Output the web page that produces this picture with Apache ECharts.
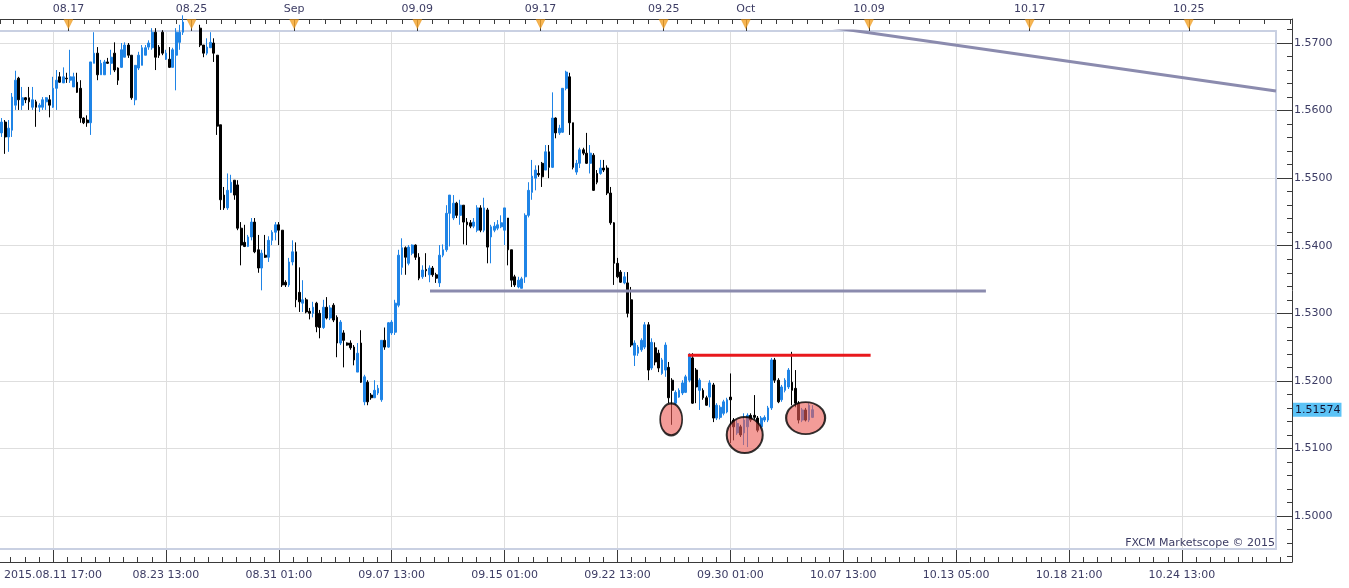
<!DOCTYPE html>
<html>
<head>
<meta charset="utf-8">
<script src="https://cdn.jsdelivr.net/npm/echarts/dist/echarts.min.js"></script>
<style>
html,body{margin:0;padding:0;background:#ffffff;}
#chart{width:1349px;height:588px;}
</style>
</head>
<body>
<div id="chart"></div>
<script>
// ================= DATA =================
// number of 4-hour slots across the plot (history + projected future)
const slotCount = 373;

// GBP/USD H4 candles: [open, close, low, high]
const ohlc = [
[1.5567,1.5583,1.5561,1.5589],[1.5583,1.5561,1.5536,1.5586],[1.5561,1.5574,1.5539,1.5586],[1.5571,1.5620,1.5561,1.5626],
[1.5608,1.5645,1.5601,1.5659],[1.5648,1.5616,1.5601,1.5650],[1.5608,1.5619,1.5601,1.5635],[1.5619,1.5616,1.5611,1.5620],
[1.5619,1.5613,1.5601,1.5635],[1.5605,1.5616,1.5601,1.5635],[1.5613,1.5605,1.5576,1.5616],[1.5605,1.5608,1.5598,1.5611],
[1.5605,1.5616,1.5601,1.5620],[1.5613,1.5619,1.5601,1.5620],[1.5616,1.5608,1.5590,1.5623],[1.5605,1.5633,1.5604,1.5650],
[1.5633,1.5645,1.5601,1.5660],[1.5650,1.5642,1.5641,1.5657],[1.5641,1.5650,1.5641,1.5664],[1.5648,1.5647,1.5641,1.5656],
[1.5645,1.5650,1.5641,1.5690],[1.5635,1.5650,1.5635,1.5656],[1.5642,1.5627,1.5626,1.5656],[1.5633,1.5589,1.5582,1.5645],
[1.5589,1.5582,1.5580,1.5590],[1.5586,1.5582,1.5576,1.5593],[1.5582,1.5672,1.5564,1.5672],[1.5670,1.5685,1.5670,1.5716],
[1.5685,1.5653,1.5645,1.5694],[1.5653,1.5670,1.5653,1.5675],[1.5653,1.5672,1.5653,1.5675],[1.5672,1.5670,1.5669,1.5678],
[1.5670,1.5679,1.5653,1.5690],[1.5685,1.5660,1.5657,1.5701],[1.5663,1.5645,1.5638,1.5664],[1.5664,1.5690,1.5663,1.5700],
[1.5679,1.5697,1.5679,1.5701],[1.5697,1.5682,1.5678,1.5700],[1.5682,1.5619,1.5616,1.5682],[1.5616,1.5667,1.5608,1.5667],
[1.5663,1.5682,1.5660,1.5687],[1.5667,1.5693,1.5667,1.5697],[1.5682,1.5693,1.5682,1.5697],[1.5694,1.5700,1.5690,1.5704],
[1.5693,1.5716,1.5690,1.5722],[1.5716,1.5679,1.5660,1.5722],[1.5694,1.5682,1.5678,1.5697],[1.5716,1.5685,1.5682,1.5719],
[1.5676,1.5685,1.5675,1.5690],[1.5676,1.5664,1.5663,1.5694],[1.5664,1.5690,1.5664,1.5693],[1.5682,1.5716,1.5630,1.5722],
[1.5701,1.5716,1.5690,1.5727],[1.5716,1.5731,1.5712,1.5741],[1.5731,1.5737,1.5722,1.5749],[1.5737,1.5727,1.5722,1.5746],
[1.5727,1.5734,1.5721,1.5743],[1.5734,1.5722,1.5719,1.5740],[1.5722,1.5697,1.5694,1.5727],[1.5697,1.5685,1.5679,1.5697],
[1.5685,1.5694,1.5682,1.5707],[1.5693,1.5701,1.5693,1.5716],[1.5700,1.5685,1.5672,1.5707],[1.5682,1.5577,1.5564,1.5682],
[1.5579,1.5468,1.5453,1.5579],[1.5475,1.5456,1.5453,1.5487],[1.5456,1.5482,1.5453,1.5507],[1.5479,1.5494,1.5478,1.5505],
[1.5497,1.5475,1.5468,1.5497],[1.5490,1.5426,1.5423,1.5497],[1.5426,1.5401,1.5371,1.5435],[1.5405,1.5399,1.5398,1.5431],
[1.5399,1.5413,1.5398,1.5416],[1.5413,1.5435,1.5408,1.5441],[1.5435,1.5391,1.5389,1.5441],[1.5394,1.5367,1.5360,1.5416],
[1.5367,1.5389,1.5334,1.5394],[1.5386,1.5383,1.5382,1.5416],[1.5383,1.5408,1.5376,1.5414],[1.5408,1.5420,1.5401,1.5423],
[1.5420,1.5431,1.5408,1.5435],[1.5431,1.5423,1.5401,1.5435],[1.5423,1.5342,1.5339,1.5423],[1.5346,1.5342,1.5339,1.5349],
[1.5342,1.5376,1.5339,1.5382],[1.5376,1.5391,1.5371,1.5408],[1.5391,1.5320,1.5309,1.5405],[1.5331,1.5317,1.5302,1.5368],
[1.5315,1.5320,1.5302,1.5349],[1.5320,1.5302,1.5300,1.5323],[1.5303,1.5300,1.5291,1.5308],[1.5300,1.5309,1.5294,1.5317],
[1.5315,1.5280,1.5272,1.5317],[1.5300,1.5279,1.5263,1.5305],[1.5279,1.5309,1.5277,1.5320],[1.5309,1.5293,1.5291,1.5324],
[1.5293,1.5308,1.5290,1.5312],[1.5312,1.5290,1.5287,1.5315],[1.5294,1.5256,1.5235,1.5297],[1.5256,1.5287,1.5253,1.5290],
[1.5271,1.5260,1.5220,1.5275],[1.5256,1.5253,1.5252,1.5257],[1.5256,1.5249,1.5246,1.5260],[1.5250,1.5231,1.5223,1.5253],
[1.5213,1.5241,1.5213,1.5256],[1.5256,1.5198,1.5197,1.5275],[1.5169,1.5206,1.5164,1.5209],[1.5198,1.5169,1.5164,1.5201],
[1.5179,1.5175,1.5172,1.5182],[1.5175,1.5186,1.5175,1.5201],[1.5182,1.5189,1.5179,1.5194],[1.5172,1.5260,1.5169,1.5260],
[1.5260,1.5250,1.5246,1.5279],[1.5250,1.5286,1.5249,1.5287],[1.5271,1.5287,1.5268,1.5290],[1.5272,1.5315,1.5268,1.5320],
[1.5312,1.5386,1.5309,1.5394],[1.5368,1.5397,1.5357,1.5411],[1.5397,1.5383,1.5357,1.5399],[1.5374,1.5398,1.5371,1.5401],
[1.5389,1.5401,1.5386,1.5402],[1.5401,1.5383,1.5379,1.5402],[1.5383,1.5352,1.5349,1.5389],[1.5354,1.5364,1.5351,1.5371],
[1.5365,1.5363,1.5354,1.5389],[1.5357,1.5367,1.5346,1.5371],[1.5367,1.5357,1.5354,1.5370],[1.5357,1.5352,1.5345,1.5360],
[1.5345,1.5386,1.5339,1.5401],[1.5386,1.5394,1.5383,1.5402],[1.5394,1.5448,1.5391,1.5460],[1.5448,1.5475,1.5399,1.5475],
[1.5441,1.5463,1.5438,1.5475],[1.5463,1.5445,1.5441,1.5465],[1.5445,1.5460,1.5431,1.5468],[1.5460,1.5435,1.5402,1.5460],
[1.5435,1.5431,1.5401,1.5441],[1.5434,1.5429,1.5426,1.5438],[1.5429,1.5435,1.5426,1.5441],[1.5423,1.5456,1.5420,1.5460],
[1.5456,1.5423,1.5420,1.5460],[1.5423,1.5456,1.5420,1.5471],[1.5453,1.5398,1.5374,1.5456],[1.5413,1.5428,1.5374,1.5431],
[1.5423,1.5429,1.5420,1.5435],[1.5426,1.5431,1.5423,1.5438],[1.5428,1.5434,1.5426,1.5445],[1.5423,1.5456,1.5401,1.5456],
[1.5441,1.5394,1.5371,1.5441],[1.5394,1.5349,1.5339,1.5394],[1.5354,1.5342,1.5339,1.5357],[1.5339,1.5349,1.5337,1.5354],
[1.5337,1.5351,1.5337,1.5354],[1.5354,1.5445,1.5345,1.5448],[1.5445,1.5482,1.5442,1.5494],[1.5479,1.5503,1.5468,1.5527],
[1.5500,1.5512,1.5482,1.5519],[1.5507,1.5505,1.5502,1.5519],[1.5522,1.5502,1.5487,1.5524],[1.5512,1.5539,1.5512,1.5549],
[1.5539,1.5516,1.5500,1.5549],[1.5516,1.5589,1.5515,1.5627],[1.5589,1.5567,1.5559,1.5590],[1.5567,1.5574,1.5564,1.5579],
[1.5568,1.5633,1.5567,1.5633],[1.5633,1.5657,1.5630,1.5659],[1.5650,1.5582,1.5564,1.5656],[1.5582,1.5516,1.5513,1.5582],
[1.5509,1.5522,1.5505,1.5527],[1.5522,1.5542,1.5515,1.5545],[1.5542,1.5537,1.5534,1.5545],[1.5537,1.5522,1.5521,1.5567],
[1.5522,1.5537,1.5507,1.5549],[1.5534,1.5482,1.5481,1.5537],[1.5507,1.5494,1.5491,1.5512],[1.5507,1.5515,1.5505,1.5527],
[1.5515,1.5512,1.5509,1.5527],[1.5515,1.5478,1.5475,1.5519],[1.5478,1.5434,1.5431,1.5487],[1.5434,1.5374,1.5342,1.5435],
[1.5374,1.5354,1.5352,1.5382],[1.5361,1.5346,1.5345,1.5364],[1.5345,1.5354,1.5343,1.5361],[1.5345,1.5300,1.5294,1.5361],
[1.5320,1.5253,1.5250,1.5339],[1.5238,1.5256,1.5222,1.5260],[1.5241,1.5250,1.5237,1.5253],[1.5246,1.5260,1.5243,1.5263],
[1.5250,1.5283,1.5247,1.5287],[1.5283,1.5216,1.5201,1.5287],[1.5219,1.5257,1.5216,1.5263],[1.5249,1.5228,1.5223,1.5257],
[1.5241,1.5219,1.5213,1.5246],[1.5211,1.5231,1.5209,1.5234],[1.5216,1.5253,1.5206,1.5257],[1.5220,1.5175,1.5167,1.5228],
[1.5201,1.5186,1.5135,1.5204],[1.5167,1.5183,1.5164,1.5186],[1.5176,1.5186,1.5175,1.5189],[1.5182,1.5197,1.5179,1.5201],
[1.5183,1.5206,1.5182,1.5209],[1.5201,1.5238,1.5198,1.5241],[1.5234,1.5167,1.5166,1.5241],[1.5216,1.5191,1.5167,1.5219],
[1.5186,1.5201,1.5157,1.5204],[1.5186,1.5175,1.5172,1.5189],[1.5175,1.5164,1.5163,1.5178],[1.5176,1.5197,1.5161,1.5201],
[1.5194,1.5145,1.5139,1.5197],[1.5145,1.5164,1.5142,1.5167],[1.5146,1.5161,1.5143,1.5164],[1.5152,1.5169,1.5149,1.5172],
[1.5154,1.5172,1.5152,1.5175],[1.5176,1.5172,1.5108,1.5211],[1.5142,1.5132,1.5112,1.5145],[1.5123,1.5137,1.5120,1.5142],
[1.5132,1.5120,1.5117,1.5135],[1.5123,1.5142,1.5105,1.5152],[1.5132,1.5149,1.5102,1.5152],[1.5149,1.5142,1.5139,1.5152],
[1.5149,1.5146,1.5143,1.5179],[1.5145,1.5127,1.5124,1.5148],[1.5132,1.5145,1.5129,1.5148],[1.5142,1.5146,1.5139,1.5149],
[1.5142,1.5160,1.5139,1.5163],[1.5160,1.5231,1.5157,1.5234],[1.5231,1.5201,1.5197,1.5234],[1.5201,1.5169,1.5167,1.5204],
[1.5172,1.5191,1.5169,1.5194],[1.5186,1.5201,1.5183,1.5204],[1.5191,1.5216,1.5188,1.5219],[1.5198,1.5186,1.5164,1.5243],
[1.5189,1.5167,1.5161,1.5216],[1.5167,1.5142,1.5137,1.5170],[1.5142,1.5157,1.5139,1.5160],[1.5157,1.5142,1.5140,1.5160],
[1.5142,1.5164,1.5139,1.5167],[1.5146,1.51574,1.5145,1.5164]
];

// bottom time axis (slot index of each labelled tick)
const bottomTickSlots  = [15, 48, 81, 114, 147, 180, 213, 246, 279, 312, 345];
const bottomTickLabels = ['2015.08.11 17:00','08.23 13:00','08.31 01:00','09.07 13:00','09.15 01:00',
                          '09.22 13:00','09.30 01:00','10.07 13:00','10.13 05:00','10.18 21:00','10.24 13:00'];

// top date axis (slot boundary where each day starts)
const topMarkerSlots  = [20, 56, 86, 122, 158, 194, 218, 254, 301, 347.5];
const topMarkerLabels = ['08.17','08.25','Sep','09.09','09.17','09.25','Oct','10.09','10.17','10.25'];
const topDaysPerSegment = [8, 7, 8, 8, 8, 6, 8, 8, 8];

// price axis
const priceTicks = [1.50, 1.51, 1.52, 1.53, 1.54, 1.55, 1.56, 1.57];

// drawn studies: [slot, price]
const trendLine      = [[240, 1.5725], [372.5, 1.5629]];
const supportLine    = [[125.2, 1.5333], [287.7, 1.5333]];
const resistanceLine = [[200.6, 1.5238], [254.0, 1.5238]];
const ellipseCenters = [[195.7, 1.5143], [217.2, 1.5120], [235.0, 1.5145]];

const watermark = 'FXCM Marketscope \u00A9 2015';

// ================= LAYOUT / STYLE =================
const PLOT  = {left: 0, top: 31, width: 1276, height: 518};
const FRAME = {left: 0, top: 19, width: 1292, height: 543};
const Y_MIN = 1.49512, Y_MAX = 1.57178;
const slotW = PLOT.width / slotCount;
const pxPerPrice = PLOT.height / (Y_MAX - Y_MIN);
const frameXMax = -0.5 + FRAME.width / slotW;
const frameYMax = Y_MAX + (PLOT.top - FRAME.top) / pxPerPrice;
const frameYMin = Y_MIN - ((FRAME.top + FRAME.height) - (PLOT.top + PLOT.height)) / pxPerPrice;
const ellipseSizes = [[22, 32], [36, 36], [39, 32]];

const FONT = "'DejaVu Sans', Verdana, sans-serif";
const TXT = '#3c3c64';
const AXIS = '#3a3a3a';
const GRIDC = '#dedede';
const BORDER = '#c9d0e2';
const UP = '#1f84e6', DOWN = '#000000';

const lastClose = ohlc[ohlc.length - 1][1];
const slotNames = Array.from({length: slotCount}, (_, i) => String(i));

function nearestIdx(arr, v) {
  let b = -1, d = 1e9;
  arr.forEach((a, i) => { const e = Math.abs(a - v); if (e < d) { d = e; b = i; } });
  return d < 1e-6 ? b : -1;
}

// minor ticks (decoration only)
const bottomStep = bottomTickSlots[1] - bottomTickSlots[0];
const bottomMinor = [];
for (let k = -8; ; k++) {
  const v = bottomTickSlots[0] + k * bottomStep / 8;
  if (v > frameXMax) break;
  if (v >= -0.5 && k % 8 !== 0) bottomMinor.push(+v.toFixed(4));
}
const priceMinor = [];
for (let k = 0; 1.494 + k * 0.002 <= frameYMax; k++) priceMinor.push(+(1.494 + k * 0.002).toFixed(3));

const topMarkerValues = topMarkerSlots.map(s => s - 0.5);
const topDayBounds = [];
for (let v = topMarkerSlots[0] - 4; v >= 0; v -= 4) topDayBounds.push(v);
for (let s = 0; s < topMarkerSlots.length - 1; s++) {
  const a = topMarkerSlots[s], b = topMarkerSlots[s + 1], n = topDaysPerSegment[s];
  for (let k = 1; k < n; k++) topDayBounds.push(a + (b - a) * k / n);
}
for (let v = topMarkerSlots[topMarkerSlots.length - 1] + 7.4; v - 0.5 <= frameXMax; v += 7.4) topDayBounds.push(v);
const topDayValues = topDayBounds.map(v => +(v - 0.5).toFixed(4));
const markerY = frameYMax - 5 / pxPerPrice;

const chart = echarts.init(document.getElementById('chart'));

const hiddenValueX = (grid, extra) => Object.assign({
  type: 'value', gridIndex: grid, min: -0.5, max: grid === 0 ? slotCount - 0.5 : frameXMax,
  axisLine: {show: false, onZero: false}, axisTick: {show: false}, axisLabel: {show: false}, splitLine: {show: false}
}, extra);

const borderLine = {show: true, onZero: false, lineStyle: {color: BORDER, width: 2}};

const option = {
  animation: false,
  backgroundColor: '#ffffff',
  textStyle: {fontFamily: FONT},
  title: {
    text: watermark, right: 1349 - 1275, bottom: 39, padding: 0,
    textStyle: {fontSize: 11, fontWeight: 'normal', color: TXT, fontFamily: FONT}
  },
  grid: [
    {left: PLOT.left, top: PLOT.top, width: PLOT.width, height: PLOT.height, show: false},
    {left: FRAME.left, top: FRAME.top, width: FRAME.width, height: FRAME.height, show: false}
  ],
  xAxis: [
    {type: 'category', gridIndex: 0, data: slotNames, show: false},
    hiddenValueX(0, {
      position: 'bottom', axisLine: borderLine,
      axisTick: {show: false, customValues: bottomTickSlots},
      splitLine: {show: true, lineStyle: {color: GRIDC, width: 1}}
    }),
    hiddenValueX(1, {
      position: 'bottom',
      axisLine: {show: true, onZero: false, lineStyle: {color: AXIS, width: 1}},
      axisTick: {show: true, inside: true, length: 12, customValues: bottomTickSlots, lineStyle: {color: AXIS}},
      axisLabel: {show: true, customValues: bottomTickSlots, margin: 8, color: TXT, fontSize: 11, fontFamily: FONT,
                  formatter: v => bottomTickLabels[nearestIdx(bottomTickSlots, v)] || ''}
    }),
    hiddenValueX(1, {
      position: 'bottom',
      axisTick: {show: true, inside: true, length: 5, customValues: bottomMinor, lineStyle: {color: AXIS}}
    }),
    hiddenValueX(1, {
      position: 'top',
      axisLine: {show: true, onZero: false, lineStyle: {color: AXIS, width: 1}},
      axisTick: {show: true, inside: true, length: 5, customValues: topDayValues, lineStyle: {color: AXIS}}
    }),
    hiddenValueX(1, {
      position: 'top',
      axisTick: {show: true, inside: true, length: 12, customValues: topMarkerValues, lineStyle: {color: AXIS}},
      axisLabel: {show: true, customValues: topMarkerValues, margin: 4, color: TXT, fontSize: 11, fontFamily: FONT,
                  formatter: v => topMarkerLabels[nearestIdx(topMarkerValues, v)] || ''}
    }),
    hiddenValueX(0, {position: 'top', axisLine: borderLine})
  ],
  yAxis: [
    {type: 'value', gridIndex: 0, min: Y_MIN, max: Y_MAX, position: 'right',
     axisLine: borderLine, axisTick: {show: false, customValues: priceTicks},
     axisLabel: {show: false}, splitLine: {show: true, lineStyle: {color: GRIDC, width: 1}}},
    {type: 'value', gridIndex: 1, position: 'right', min: frameYMin, max: frameYMax,
     axisLine: {show: true, onZero: false, lineStyle: {color: AXIS, width: 1}},
     axisTick: {show: true, inside: true, length: 15, customValues: priceTicks, lineStyle: {color: AXIS}},
     axisLabel: {show: true, customValues: priceTicks, margin: 2, color: TXT, fontSize: 11, fontFamily: FONT,
                 formatter: v => v.toFixed(4)},
     splitLine: {show: false}},
    {type: 'value', gridIndex: 1, position: 'right', min: frameYMin, max: frameYMax,
     axisLine: {show: false, onZero: false},
     axisTick: {show: true, inside: true, length: 5, customValues: priceMinor, lineStyle: {color: AXIS}},
     axisLabel: {show: false}, splitLine: {show: false}},
    {type: 'value', gridIndex: 1, position: 'right', min: frameYMin, max: frameYMax,
     axisLine: {show: false, onZero: false}, axisTick: {show: false},
     axisLabel: {show: true, customValues: [lastClose], margin: 1, color: '#141432', fontSize: 11, fontFamily: FONT,
                 backgroundColor: '#5cc3f6', padding: [2, 1, 1, 2], formatter: v => v.toFixed(5)},
     splitLine: {show: false}}
  ],
  series: [
    {type: 'candlestick', xAxisIndex: 0, yAxisIndex: 0, data: ohlc, barWidth: 2.3, clip: true, z: 2,
     itemStyle: {color: UP, color0: DOWN, borderColor: UP, borderColor0: DOWN, borderWidth: 1}},
    {type: 'line', xAxisIndex: 1, yAxisIndex: 0, data: trendLine, symbol: 'none', clip: true, z: 3, silent: true,
     lineStyle: {color: '#8b8bae', width: 3}},
    {type: 'line', xAxisIndex: 1, yAxisIndex: 0, data: supportLine, symbol: 'none', clip: true, z: 3, silent: true,
     lineStyle: {color: '#8b8bae', width: 3}},
    {type: 'line', xAxisIndex: 1, yAxisIndex: 0, data: resistanceLine, symbol: 'none', clip: true, z: 3, silent: true,
     lineStyle: {color: '#e8181c', width: 3}},
    {type: 'scatter', xAxisIndex: 1, yAxisIndex: 0, z: 4, silent: true, symbol: 'circle',
     data: ellipseCenters.map((c, i) => ({value: c, symbolSize: ellipseSizes[i]})),
     itemStyle: {color: 'rgba(236,92,86,0.76)', borderColor: '#000000', borderWidth: 2}},
    {type: 'scatter', xAxisIndex: 2, yAxisIndex: 1, z: 5, silent: true, symbol: 'triangle', symbolRotate: 180,
     symbolSize: [9, 9], data: topMarkerValues.map(v => [v, markerY]),
     itemStyle: {color: '#f5a325', borderColor: '#e08c10', borderWidth: 0.5}}
  ]
};

chart.setOption(option);
</script>
</body>
</html>
